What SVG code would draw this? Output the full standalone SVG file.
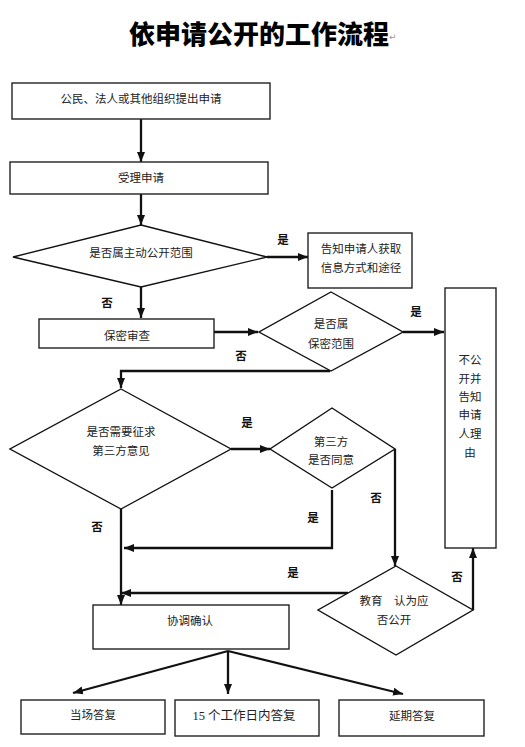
<svg xmlns="http://www.w3.org/2000/svg" width="525" height="747" viewBox="0 0 525 747">
<style>
.bg{fill:#fff}
.box{fill:#fff;stroke:#222;stroke-width:1.4}
.dia{fill:#fff;stroke:#111;stroke-width:1.4}
.c{fill:none;stroke:#111;stroke-width:2.3}
.t{font-family:"Noto Sans CJK SC","DejaVu Sans",sans-serif;font-size:11.5px;fill:#222;text-anchor:middle;dominant-baseline:central}
.l{font-family:"Noto Sans CJK SC",sans-serif;font-size:11.5px;font-weight:bold;fill:#111;text-anchor:middle;dominant-baseline:central}
.title{font-family:"Liberation Serif","Noto Sans CJK SC",serif;font-size:26px;font-weight:900;fill:#000;text-anchor:middle}
.s{font-family:"Liberation Serif","Noto Sans CJK SC",serif;font-size:12.5px;fill:#222;text-anchor:middle;dominant-baseline:central}
</style>
<defs>
<marker id="ah" markerUnits="userSpaceOnUse" markerWidth="10" markerHeight="10" viewBox="0 0 10 10" refX="10" refY="5" orient="auto">
<path d="M0,1 L10,5 L0,9 Z" fill="#111"/>
</marker>
</defs>
<rect class="bg" width="525" height="747"/>
<text class="title" x="259" y="44">依申请公开的工作流程</text>
<text x="389" y="40" style="font-family:'DejaVu Sans',sans-serif;font-size:9px;fill:#999">↵</text>

<g id="connectors">
<line class="c" x1="141" y1="119" x2="141" y2="162" marker-end="url(#ah)"/>
<line class="c" x1="141" y1="194" x2="141" y2="225" marker-end="url(#ah)"/>
<line class="c" x1="267" y1="257" x2="308" y2="257" marker-end="url(#ah)"/>
<line class="c" x1="141" y1="287" x2="141" y2="318" marker-end="url(#ah)"/>
<line class="c" x1="214" y1="332" x2="258" y2="332" marker-end="url(#ah)"/>
<line class="c" x1="403" y1="332" x2="444" y2="332" marker-end="url(#ah)"/>
<polyline class="c" points="330,371 121,371 121,388" marker-end="url(#ah)"/>
<line class="c" x1="231" y1="449" x2="270" y2="449" marker-end="url(#ah)"/>
<polyline class="c" points="332,490 332,548 124,548" marker-end="url(#ah)"/>
<polyline class="c" points="395,449 395,566" marker-end="url(#ah)"/>
<line class="c" x1="121" y1="509" x2="121" y2="605" marker-end="url(#ah)"/>
<line class="c" x1="348" y1="593" x2="121" y2="593" marker-end="url(#ah)"/>
<polyline class="c" points="473,610 473,548" marker-end="url(#ah)"/>
<line class="c" x1="228" y1="651" x2="73" y2="693" marker-end="url(#ah)"/>
<line class="c" x1="228" y1="651" x2="228" y2="694" marker-end="url(#ah)"/>
<line class="c" x1="228" y1="651" x2="403" y2="694" marker-end="url(#ah)"/>
<text class="l" x="283" y="239">是</text>
<text class="l" x="107" y="302">否</text>
<text class="l" x="241" y="355">否</text>
<text class="l" x="416" y="311">是</text>
<text class="l" x="247" y="422">是</text>
<text class="l" x="376" y="497">否</text>
<text class="l" x="313" y="517">是</text>
<text class="l" x="97" y="526">否</text>
<text class="l" x="293" y="572">是</text>
<text class="l" x="457" y="576">否</text>
</g>

<g id="n1"><rect class="box" x="12" y="83" width="258" height="36"/><text class="t" x="141" y="98">公民、法人或其他组织提出申请</text></g>
<g id="n2"><rect class="box" x="10" y="162" width="258" height="32"/><text class="t" x="141" y="177">受理申请</text></g>
<g id="n3"><polygon class="dia" points="141,225 267,257 141,287 13,257"/><text class="t" x="141" y="252">是否属主动公开范围</text></g>
<g id="n4"><rect class="box" x="308" y="233" width="104" height="55"/><text class="t" x="361" y="248">告知申请人获取</text><text class="t" x="361" y="267">信息方式和途径</text></g>
<g id="n5"><rect class="box" x="39" y="319" width="175" height="29"/><text class="t" x="127" y="335">保密审查</text></g>
<g id="n6"><polygon class="dia" points="331,292 403,332 331,371 259,332"/><text class="t" x="331" y="323">是否属</text><text class="t" x="331" y="343">保密范围</text></g>
<g id="n7"><rect class="box" x="445" y="288" width="51" height="260"/>
<text class="t" x="470" y="359">不公</text><text class="t" x="470" y="378">开并</text><text class="t" x="470" y="396">告知</text><text class="t" x="470" y="414">申请</text><text class="t" x="470" y="433">人理</text><text class="t" x="470" y="452">由</text></g>
<g id="n8"><polygon class="dia" points="121,389 231,449 121,509 10,449"/><text class="t" x="121" y="431">是否需要征求</text><text class="t" x="121" y="450">第三方意见</text></g>
<g id="n9"><polygon class="dia" points="332,408 395,449 332,488 270,449"/><text class="t" x="331" y="441">第三方</text><text class="t" x="331" y="459">是否同意</text></g>
<g id="n10"><polygon class="dia" points="396,566 473,610 396,655 318,610"/><text class="t" x="394" y="600">教育　认为应</text><text class="t" x="394" y="619">否公开</text></g>
<g id="n11"><rect class="box" x="93" y="605" width="196" height="44"/><text class="t" x="190" y="620">协调确认</text></g>
<g id="n12"><rect class="box" x="21" y="700" width="144" height="34"/><text class="t" x="93" y="714">当场答复</text></g>
<g id="n13"><rect class="box" x="175" y="700" width="144" height="36"/><text class="s" x="244" y="716">15 个工作日内答复</text></g>
<g id="n14"><rect class="box" x="339" y="700" width="145" height="36"/><text class="t" x="412" y="715">延期答复</text></g>
</svg>
